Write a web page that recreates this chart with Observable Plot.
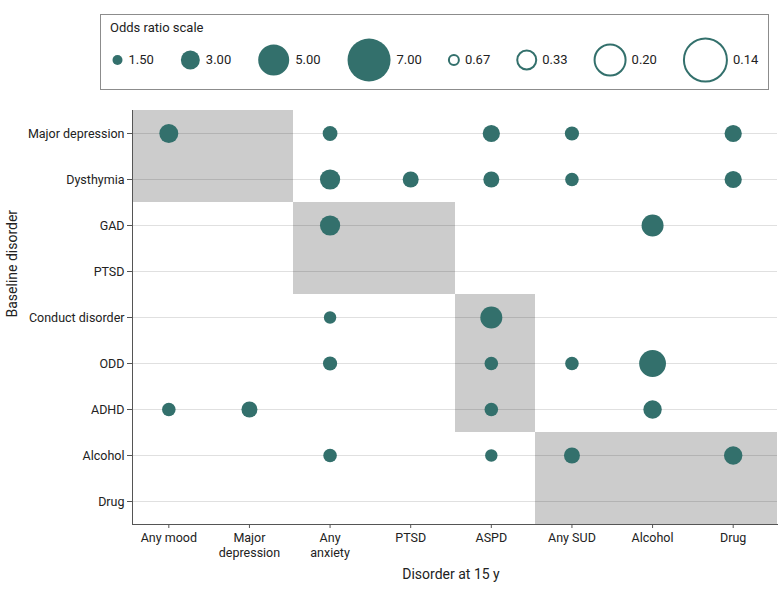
<!DOCTYPE html>
<html><head><meta charset="utf-8">
<script src="https://cdn.jsdelivr.net/npm/d3@7"></script>
<script src="https://cdn.jsdelivr.net/npm/@observablehq/plot@0.6"></script>
<style>
body{margin:0;background:#fff;font-family:Roboto,"Liberation Sans",sans-serif;color:#222}
#wrap{width:780px;height:593px;overflow:hidden}
#legend{position:relative;margin-left:100px;margin-top:14px;margin-bottom:10px;width:667px;height:74px;border:1px solid #8c8c8c}
#legend .title{position:absolute;left:9px;top:5px;font-size:13px;color:#222}
#legend svg{position:absolute;left:0;top:0}
#chart svg{display:block}
</style></head>
<body><div id="wrap"><div id="legend"><div class="title">Odds ratio scale</div></div><div id="chart"></div></div>
<script>
// Categories
const outcomes = ["Any mood","Major depression","Any anxiety","PTSD","ASPD","Any SUD","Alcohol","Drug"];
const outcomeLabels = ["Any mood","Major\ndepression","Any\nanxiety","PTSD","ASPD","Any SUD","Alcohol","Drug"];
const baselines = ["Major depression","Dysthymia","GAD","PTSD","Conduct disorder","ODD","ADHD","Alcohol","Drug"];

// Points (baseline disorder x disorder at 15 y -> odds ratio)
const pointBaseline = ["Major depression","Major depression","Major depression","Major depression","Major depression",
  "Dysthymia","Dysthymia","Dysthymia","Dysthymia","Dysthymia",
  "GAD","GAD",
  "Conduct disorder","Conduct disorder",
  "ODD","ODD","ODD","ODD",
  "ADHD","ADHD","ADHD","ADHD",
  "Alcohol","Alcohol","Alcohol","Alcohol"];
const pointOutcome = ["Any mood","Any anxiety","ASPD","Any SUD","Drug",
  "Any anxiety","PTSD","ASPD","Any SUD","Drug",
  "Any anxiety","Alcohol",
  "Any anxiety","ASPD",
  "Any anxiety","ASPD","Any SUD","Alcohol",
  "Any mood","Major depression","ASPD","Alcohol",
  "Any anxiety","ASPD","Any SUD","Drug"];
const pointOddsRatio = [3.0,2.3,2.7,2.2,2.7,
  3.2,2.5,2.5,2.1,2.7,
  3.2,3.5,
  1.9,3.5,
  2.2,2.1,2.1,4.3,
  2.1,2.5,2.1,2.9,
  2.1,1.9,2.5,2.9];

// Shaded within-domain blocks
const blockBaselines = [["Major depression","Dysthymia"],["GAD","PTSD"],["Conduct disorder","ODD","ADHD"],["Alcohol","Drug"]];
const blockOutcomes = [["Any mood","Major depression"],["Any anxiety","PTSD"],["ASPD"],["Any SUD","Alcohol","Drug"]];

// Legend
const legendLabels = ["1.50","3.00","5.00","7.00","0.67","0.33","0.20","0.14"];
const legendMagnitude = [1.5,3,5,7,1.5,3,5,7];
const legendFilled = [true,true,true,true,false,false,false,false];

const teal = "#33706c";
const font = "Roboto, 'Liberation Sans', sans-serif";
const rDomain = [0,7], rRange = [0.5,21.5];
const rScale = {type:"linear", domain:rDomain, range:rRange};
const rFn = d3.scaleLinear(rDomain, rRange);

// ---- Legend ----
const ctx = document.createElement("canvas").getContext("2d");
ctx.font = "13px " + font;
let cursor = 11;
const legendData = legendLabels.map((lab,i)=>{
  const rr = rFn(legendMagnitude[i]);
  const cx = cursor + rr;
  const lx = cx + rr + 6;
  cursor = lx + ctx.measureText(lab).width + 27;
  return {label:lab, mag:legendMagnitude[i], filled:legendFilled[i], cx, lx};
});
const legend = Plot.plot({
  width:667, height:74, marginTop:15, marginBottom:0, marginLeft:0, marginRight:0,
  style:{fontFamily:font, fontSize:"13px", color:"#222", background:"transparent"},
  x:{type:"identity", axis:null}, r:rScale,
  marks:[
    Plot.dot(legendData.filter(d=>d.filled),{x:"cx", r:"mag", fill:teal, stroke:"none"}),
    Plot.dot(legendData.filter(d=>!d.filled),{x:"cx", r:"mag", fill:"none", stroke:teal, strokeWidth:2}),
    Plot.text(legendData,{x:"lx", text:"label", textAnchor:"start", fill:"#222", fontSize:13})
  ]
});
document.getElementById("legend").appendChild(legend);

// ---- Main chart ----
const points = pointBaseline.map((b,i)=>({baseline:b, outcome:pointOutcome[i], or:pointOddsRatio[i]}));
const cells = blockBaselines.flatMap((rows,k)=>rows.flatMap(b=>blockOutcomes[k].map(o=>({baseline:b, outcome:o}))));

const chart = Plot.plot({
  width:780, height:493, marginTop:10, marginBottom:69, marginLeft:128, marginRight:7,
  style:{fontFamily:font, fontSize:"12.5px", color:"#222", background:"#fff"},
  x:{type:"band", domain:outcomes, padding:0, round:false},
  y:{type:"band", domain:baselines, padding:0, round:false},
  r:rScale,
  marks:[
    Plot.cell(cells,{x:"outcome", y:"baseline", fill:"#cccccc", inset:0, dx:4, shapeRendering:"crispEdges"}),
    Plot.ruleY(baselines,{y:d=>d, stroke:"#000", strokeOpacity:0.12, strokeWidth:1.2, dx:4}),
    Plot.frame({anchor:"left", stroke:"#555", dx:4}),
    Plot.frame({anchor:"bottom", stroke:"#555", dx:4}),
    Plot.axisX({tickSize:4, tickPadding:3, tickFormat:d=>outcomeLabels[outcomes.indexOf(d)], lineHeight:1.2, label:null, stroke:"#555"}),
    Plot.axisY({tickSize:5, tickPadding:3, dx:4, label:null, stroke:"#555"}),
    Plot.text(["Disorder at 15 y"],{text:d=>d, frameAnchor:"bottom", dy:54, fontSize:14, fill:"#222"}),
    Plot.text(["Baseline disorder"],{text:d=>d, frameAnchor:"left", dx:-116, rotate:-90, fontSize:14, fill:"#222"}),
    Plot.dot(points,{x:"outcome", y:"baseline", r:"or", fill:teal, stroke:"none"})
  ]
});
document.getElementById("chart").appendChild(chart);
</script></body></html>
